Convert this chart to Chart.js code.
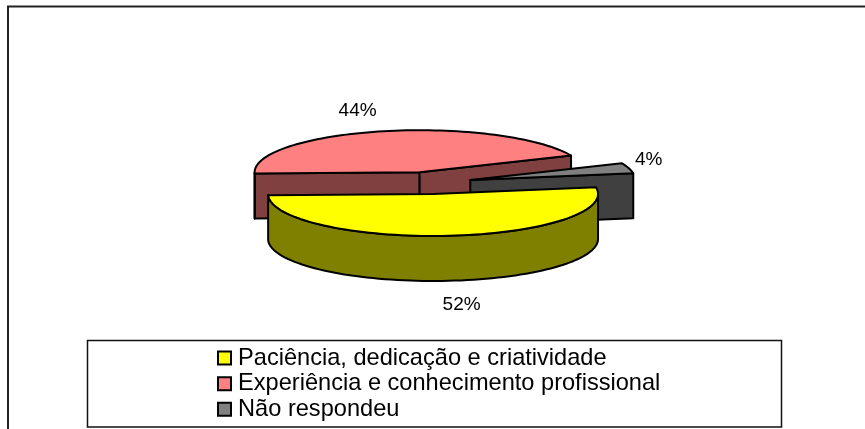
<!DOCTYPE html>
<html lang="en">
<head>
    <meta charset="UTF-8">
    <title>Pie chart</title>
    <script src="https://cdn.jsdelivr.net/npm/chart.js"></script>
    <style>
        body { margin: 0; background: #fff; }
        canvas { display: block; }
    </style>
</head>
<body>

    <canvas id="pieChart" width="865" height="429"></canvas>

    <script>
        const categories = ["Paciência, dedicação e criatividade", "Experiência e conhecimento profissional", "Não respondeu"];
        const percentages = [52, 44, 4];
        const topColors = ["#ffff00", "#ff8080", "#808080"];
        const wallColors = ["#808000", "#804040", "#404040"];

        const squash = 0.255;
        const depth = 45;
        const explode = 43;
        const labelShift = [[13, 69], [-26, -20], [20, -8]];
        let centerY = 0;

        // screen position of a point on a slice, after the flattening
        function slicePoint(arc, angle, radius, drop) {
            return [
                arc.x + radius * Math.cos(angle),
                centerY + squash * (arc.y - centerY + radius * Math.sin(angle)) + drop
            ];
        }

        function tracePolygon(ctx, points) {
            ctx.beginPath();
            points.forEach((p, i) => i ? ctx.lineTo(p[0], p[1]) : ctx.moveTo(p[0], p[1]));
            ctx.closePath();
        }

        function paint(ctx, points, fill) {
            tracePolygon(ctx, points);
            if (fill) {
                ctx.fillStyle = fill;
                ctx.fill();
            }
            ctx.stroke();
        }

        function cutFace(arc, angle) {
            const r = arc.outerRadius;
            return [slicePoint(arc, 0, 0, 0), slicePoint(arc, angle, r, 0), slicePoint(arc, angle, r, depth), slicePoint(arc, 0, 0, depth)];
        }

        function drawWalls(ctx, arc, color) {
            const r = arc.outerRadius;
            if (Math.cos(arc.startAngle) < 0) paint(ctx, cutFace(arc, arc.startAngle), color);
            if (Math.cos(arc.endAngle) > 0) paint(ctx, cutFace(arc, arc.endAngle), color);

            // outer wall, only the part that faces the viewer
            const turn = Math.PI * 2;
            let from = arc.startAngle, to = arc.endAngle;
            const k = Math.floor(from / turn);
            from -= k * turn;
            to -= k * turn;
            const ranges = [[from, Math.min(to, Math.PI)], [Math.max(from, turn), Math.min(to, turn + Math.PI)]];
            ranges.forEach(([a, b]) => {
                if (b <= a) return;
                const top = [], bottom = [];
                for (let i = 0; i <= 80; i++) {
                    const t = a + (b - a) * i / 80;
                    top.push(slicePoint(arc, t, r, 0));
                    bottom.unshift(slicePoint(arc, t, r, depth));
                }
                paint(ctx, top.concat(bottom), color);
            });
        }

        const pie3d = {
            id: "pie3d",
            beforeDraw(chart) {
                const ctx = chart.ctx;
                ctx.save();
                ctx.fillStyle = "#fff";
                ctx.fillRect(0, 0, chart.width, chart.height);
                // outer frame has only its top and left sides
                ctx.strokeStyle = "#222";
                ctx.lineWidth = 2;
                ctx.beginPath();
                ctx.moveTo(8, chart.height);
                ctx.lineTo(8, 6.5);
                ctx.lineTo(chart.width, 6.5);
                ctx.stroke();
                // legend box
                ctx.strokeStyle = "#111";
                ctx.lineWidth = 1.5;
                ctx.strokeRect(87.5, 340.5, 694, 86.5);
                ctx.restore();
            },
            afterLayout(chart) {
                const area = chart.chartArea;
                area.left = 229; area.right = 629;
                area.top = 83; area.bottom = 283;
                area.width = 400; area.height = 200;
                centerY = (area.top + area.bottom) / 2;
                const legend = chart.legend;
                const pad = legend.options.labels.padding;
                legend.left = 222.75 - pad; legend.right = 782;
                legend.top = 346.25 - pad; legend.bottom = 427;
                legend.width = legend.right - legend.left;
                legend.height = legend.bottom - legend.top;
                // the markers stick out left of the moved box, so no clipping
                legend.draw = function () { this._draw(); };
            },
            afterDatasetsUpdate(chart) {
                // pull the slices apart along their middle angle
                chart.getDatasetMeta(0).data.forEach(arc => {
                    const mid = (arc.startAngle + arc.endAngle) / 2;
                    arc.x += explode * Math.cos(mid);
                    arc.y += explode * Math.sin(mid);
                });
            },
            beforeDatasetsDraw(chart) {
                const ctx = chart.ctx;
                const arcs = chart.getDatasetMeta(0).data;
                ctx.save();
                ctx.strokeStyle = "#000";
                ctx.lineWidth = 2;
                ctx.lineJoin = "round";
                [1, 2, 0].forEach(i => drawWalls(ctx, arcs[i], wallColors[i]));
                ctx.restore();

                // flatten the pie, the arcs themselves stay the library's
                ctx.save();
                ctx.translate(0, centerY);
                ctx.scale(1, squash);
                ctx.translate(0, -centerY);
            },
            afterDatasetsDraw(chart) {
                const ctx = chart.ctx;
                ctx.restore();
                const arcs = chart.getDatasetMeta(0).data;
                ctx.save();
                ctx.strokeStyle = "#000";
                ctx.lineWidth = 2;
                ctx.lineJoin = "round";
                arcs.forEach(arc => {
                    const pts = [slicePoint(arc, 0, 0, 0)];
                    for (let i = 0; i <= 80; i++) {
                        pts.push(slicePoint(arc, arc.startAngle + (arc.endAngle - arc.startAngle) * i / 80, arc.outerRadius, 0));
                    }
                    paint(ctx, pts, null);
                });

                ctx.fillStyle = "#000";
                ctx.font = "19px 'Liberation Sans'";
                ctx.textAlign = "center";
                ctx.textBaseline = "middle";
                arcs.forEach((arc, i) => {
                    const mid = (arc.startAngle + arc.endAngle) / 2;
                    const p = slicePoint(arc, mid, arc.outerRadius, 0);
                    ctx.fillText(percentages[i] + "%", p[0] + labelShift[i][0], p[1] + labelShift[i][1]);
                });
                ctx.restore();
            }
        };

        new Chart(document.getElementById("pieChart"), {
            type: "pie",
            data: {
                labels: categories,
                datasets: [{
                    data: percentages,
                    backgroundColor: topColors,
                    borderWidth: 0,
                    clip: false
                }]
            },
            plugins: [pie3d],
            options: {
                responsive: false,
                animation: false,
                radius: 165,
                rotation: 81,
                events: [],
                plugins: {
                    tooltip: { enabled: false },
                    legend: {
                        position: "left",
                        align: "start",
                        labels: {
                            usePointStyle: true,
                            pointStyle: "rect",
                            boxWidth: 3.5,
                            boxHeight: 13,
                            padding: 2,
                            color: "#000",
                            font: { family: "'Liberation Sans'", size: 23.6 },
                            generateLabels: chart => categories.map((text, i) => ({
                                text: text,
                                fillStyle: topColors[i],
                                strokeStyle: "#000",
                                lineWidth: 2,
                                pointStyle: "rect",
                                index: i
                            }))
                        }
                    }
                }
            }
        });
    </script>

</body>
</html>
